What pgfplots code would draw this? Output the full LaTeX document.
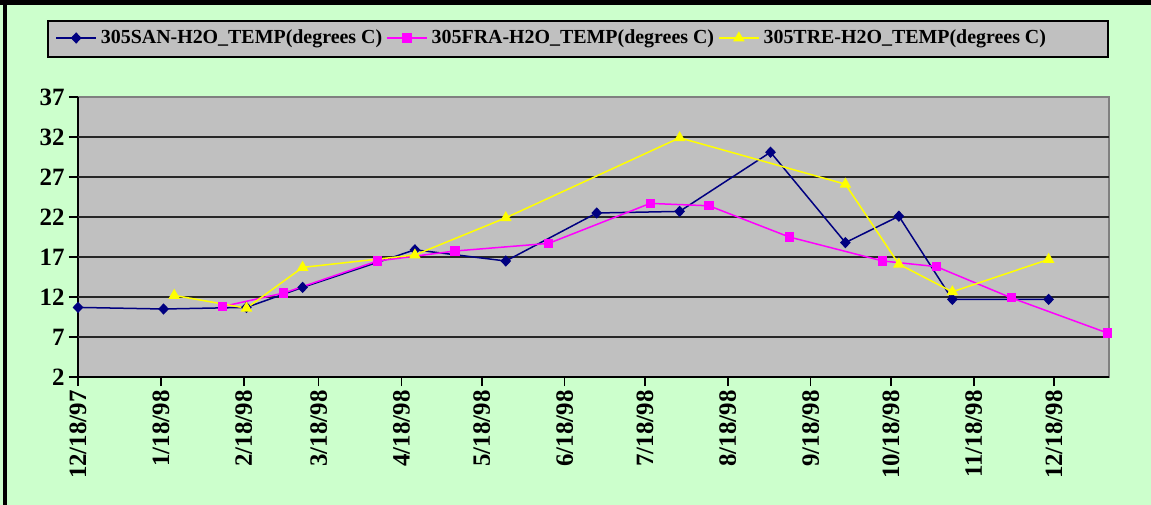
\documentclass[border=0pt]{standalone}
\usepackage{fontspec}
\setmainfont{Liberation Serif}
\usepackage{pgfplots}
\pgfplotsset{compat=1.18}
\definecolor{bgreen}{RGB}{204,255,204}
\definecolor{plotgray}{RGB}{192,192,192}
\definecolor{sanblue}{RGB}{0,0,128}
\definecolor{framag}{RGB}{255,0,255}
\definecolor{treyel}{RGB}{255,255,0}

\begin{document}
\begin{tikzpicture}
% pixel grid of the reference (1 px = 0.5bp, y downwards)
\begin{scope}[x=0.5bp,y=-0.5bp]
  \fill[bgreen] (0,0) rectangle (1151,505);
  \useasboundingbox (0,0) rectangle (1151,505);
  \fill[black] (0,0) rectangle (1151,5);
  \fill[black] (3,0) rectangle (7,505);
  \draw[black, line width=1bp, fill=plotgray] (47.5,21.5) rectangle (1108,57);
  \coordinate (ll) at (78,377);
\end{scope}
\begin{axis}[
    at={(ll)}, anchor=south west,
    scale only axis, width=515.5bp, height=140bp,
    xmin=0, xmax=385.6, ymin=2, ymax=37,
    clip=false,
    axis lines=left,
    axis line style={-, black, line width=1bp},
    axis background/.style={fill=plotgray, draw=gray, line width=1bp},
    ytick={2,7,...,37},
    extra y ticks={7,12,...,32},
    extra y tick labels={},
    extra y tick style={ymajorgrids=true, major tick length=0pt},
    major grid style={black!85, line width=1.1bp},
    xtick={0,31,62,90,121,151,182,212,243,274,304,335,365},
    xticklabels={12/18/97,1/18/98,2/18/98,3/18/98,4/18/98,5/18/98,6/18/98,7/18/98,8/18/98,9/18/98,10/18/98,11/18/98,12/18/98},
    tick align=outside,
    major tick length=4.5bp,
    tick style={black, line width=0.8bp},
    /pgf/number format/assume math mode=true,
    tick label style={font=\fontsize{12.5}{14}\selectfont\bfseries},
    xticklabel style={rotate=90, anchor=east, inner sep=2bp},
    yticklabel style={inner sep=2bp},
    legend columns=3,
    legend cell align=left,
    legend style={draw=none, fill=none, inner sep=0pt,
        at={(-0.0223,1.2107)}, anchor=west,
        font=\fontsize{10}{12}\selectfont\bfseries,
        /tikz/every even column/.append style={column sep=0bp}},
    legend image code/.code={\draw[mark repeat=2,mark phase=2] plot coordinates {(0bp,0bp) (10bp,0bp) (20bp,0bp)};},
    every axis plot/.append style={line width=0.75bp},
]
% 305SAN
\addplot[sanblue, mark=diamond*, mark size=2.3bp, mark options={solid, fill=sanblue, xscale=1.25}] coordinates {
 (0,10.7) (32,10.5) (63,10.7) (84,13.2) (126,17.9) (160,16.5) (194,22.5)
 (225,22.7) (259,30.1) (287,18.8) (307,22.1) (327,11.7) (363,11.7)};
\addlegendentry{305SAN-H2O\_TEMP(degrees C)}
% 305FRA
\addplot[framag, mark=square*, mark size=1.9bp, mark options={solid, fill=framag}] coordinates {
 (54,10.8) (77,12.5) (112,16.5) (141,17.75) (176,18.7) (214,23.7)
 (236,23.4) (266,19.5) (301,16.5) (321,15.8) (349,11.9) (385,7.5)};
\addlegendentry{305FRA-H2O\_TEMP(degrees C)}
% 305TRE
\addplot[treyel, mark=triangle*, mark size=2.6bp, mark options={solid, fill=treyel}] coordinates {
 (36,12.2) (63,10.6) (84,15.7) (126,17.25) (160,21.9) (225,31.9)
 (287,26.1) (307,16.1) (327,12.65) (363,16.7)};
\addlegendentry{305TRE-H2O\_TEMP(degrees C)}
\end{axis}
\end{tikzpicture}
\end{document}
